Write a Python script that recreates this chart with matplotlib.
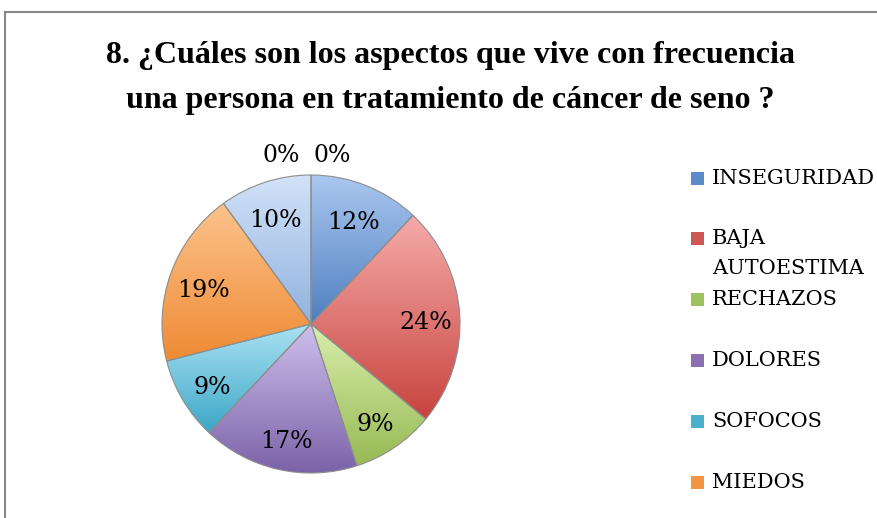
import matplotlib
matplotlib.use("Agg")
import matplotlib.pyplot as plt
from matplotlib.patches import Rectangle
from matplotlib.colors import to_rgb
import numpy as np

# Survey responses (percent of answers)
legend_labels = ["INSEGURIDAD", "BAJA\nAUTOESTIMA", "RECHAZOS", "DOLORES", "SOFOCOS", "MIEDOS"]
values = [12, 24, 9, 17, 9, 19, 10, 0, 0]

# Slice shading: light tone at the top of each slice, full tone at the bottom
top_colors = ["#AAC7EF", "#F5ABA9", "#D9EEAC", "#CEBFEC", "#ABE2F3", "#FCC28C",
              "#D2E2F8", "#D2E2F8", "#D2E2F8"]
base_colors = ["#4F7FC0", "#C8443F", "#97B954", "#7C62A8", "#3CA6C7", "#EF8B34",
               "#92B2E0", "#92B2E0", "#92B2E0"]
swatch_colors = ["#5C8BCB", "#CC5755", "#9FC160", "#8A70B2", "#4BB0CD", "#F29442"]

title = "8. ¿Cuáles son los aspectos que vive con frecuencia\nuna persona en tratamiento de cáncer de seno ?"

W, H = 878, 518
fig = plt.figure(figsize=(W / 100, H / 100), dpi=100)
fig.patch.set_facecolor("white")

# Outer chart frame (runs past the right and bottom edges)
fig.add_artist(Rectangle((5 / W, -0.1), 1.2, 1.1 - 12 / H, transform=fig.transFigure,
                         fill=False, edgecolor="#878787", linewidth=1.5))

fig.text(450 / W, 1 - 78 / H, title, ha="center", va="center", fontsize=23,
         fontweight="bold", family="Liberation Serif", linespacing=1.74)

# Pie axes
cx, cy, r = 311, 324, 149
ax = fig.add_axes([(cx - r) / W, 1 - (cy + r) / H, 2 * r / W, 2 * r / H])

wedges, _ = ax.pie(values, colors=base_colors, startangle=90, counterclock=False,
                   radius=1, wedgeprops=dict(edgecolor="#8d8d8d", linewidth=0.8))

# Vertical gradient fill inside each slice
for w, v, c0, c1 in zip(wedges, values, top_colors, base_colors):
    if v == 0:
        continue
    ext = w.get_path().get_extents()
    a, b = np.array(to_rgb(c0)), np.array(to_rgb(c1))
    t = np.linspace(0, 1, 128)[:, None]
    grad = (a * (1 - t) + b * t)[:, None, :]
    im = ax.imshow(grad, extent=[ext.x0, ext.x1, ext.y0, ext.y1], origin="upper",
                   aspect="auto", interpolation="bilinear", zorder=w.get_zorder())
    im.set_clip_path(w)
    w.set_facecolor("none")
    w.set_zorder(w.get_zorder() + 0.5)

pct_dist = 0.77
label_font = dict(fontsize=17, family="DejaVu Serif", color="black")
zero_offsets = [-0.2, 0.14]
zi = 0
for w, v in zip(wedges, values):
    ang = np.deg2rad((w.theta1 + w.theta2) / 2)
    if v == 0:
        x = zero_offsets[zi]
        y = 1.13
        zi += 1
    else:
        x, y = pct_dist * np.cos(ang), pct_dist * np.sin(ang) - 0.035
    ax.text(x, y, f"{v}%", ha="center", va="center", zorder=5, clip_on=False,
            **label_font)

ax.set_xlim(-1, 1)
ax.set_ylim(-1, 1)
ax.set_aspect("equal")
ax.axis("off")

# Legend: square swatch plus label, one slot per category
lx, ly0, step = 691 / W, 178, 60.8
for i, (lab, col) in enumerate(zip(legend_labels, swatch_colors)):
    yc = ly0 + i * step
    fig.add_artist(Rectangle((lx, 1 - (yc + 6.5) / H), 13 / W, 13 / H,
                             transform=fig.transFigure, facecolor=col,
                             edgecolor="none"))
    for j, line in enumerate(lab.split("\n")):
        fig.text(712 / W, 1 - (yc + j * 30) / H, line, ha="left", va="center",
                 fontsize=15, family="DejaVu Serif")

fig.savefig("out.png", dpi=100)
